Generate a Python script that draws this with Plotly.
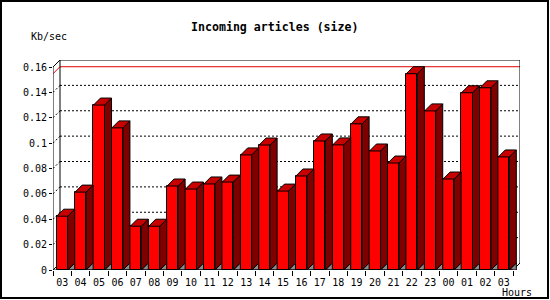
import plotly.graph_objects as go

hours = ["03", "04", "05", "06", "07", "08", "09", "10", "11", "12", "13", "14",
         "15", "16", "17", "18", "19", "20", "21", "22", "23", "00", "01", "02", "03"]
values = [0.0424, 0.0614, 0.130, 0.112, 0.0345, 0.0345, 0.0662, 0.0638, 0.0678,
          0.0693, 0.0907, 0.0985, 0.0622, 0.0741, 0.1017, 0.0986, 0.1152, 0.0938,
          0.0843, 0.1547, 0.1254, 0.0717, 0.1397, 0.1436, 0.0891]
y_ticks = [0, 0.02, 0.04, 0.06, 0.08, 0.1, 0.12, 0.14, 0.16]
y_ticktext = ["0", "0.02", "0.04", "0.06", "0.08", "0.1", "0.12", "0.14", "0.16"]

title = "Incoming articles (size)"
y_title = "Kb/sec"
x_title = "Hours"

# geometry (in pixels of the 550x300 canvas)
L, R, T, B = 53, 520, 60, 270
n = len(values)
px_per_cat = 460 / n
dx = 7 / px_per_cat
ymax = 0.16
px_per_unit = (B - 67) / ymax
dy = 7 / px_per_unit
W = R - L
H = B - T

FRONT = "#ff0000"
SIDE = "#800000"
TOP = "#c80000"
FLOOR = "#8c8c8c"

xs = [i + 0.5 for i in range(n)]

side_x, side_y, top_x, top_y, fl_x, fl_y = [], [], [], [], [], []
for i, v in enumerate(values):
    xl, xr = i + 0.2, i + 0.8
    side_x += [xr, xr + dx, xr + dx, xr, xr, None]
    side_y += [0, dy, v + dy, v, 0, None]
    top_x += [xl, xr, xr + dx, xl + dx, xl, None]
    top_y += [v, v, v + dy, v + dy, v, None]
    fl_x += [xr, xr + dx, xr + dx, xr, None]
    fl_y += [0, dy, 0, 0, None]

fig = go.Figure()
fig.add_trace(go.Bar(x=xs, y=values, width=0.6, marker=dict(color=FRONT, line=dict(color="black", width=1)),
                     hoverinfo="skip"))
fig.add_trace(go.Scatter(x=fl_x, y=fl_y, fill="toself", fillcolor=FLOOR, mode="lines",
                         line=dict(color="black", width=1), hoverinfo="skip"))
fig.add_trace(go.Scatter(x=side_x, y=side_y, fill="toself", fillcolor=SIDE, mode="lines",
                         line=dict(color="black", width=1), hoverinfo="skip"))
fig.add_trace(go.Scatter(x=top_x, y=top_y, fill="toself", fillcolor=TOP, mode="lines",
                         line=dict(color="black", width=1), hoverinfo="skip"))

shapes = []
def seg(x0, y0, x1, y1, color="black", dash="solid", width=1, layer="below"):
    shapes.append(dict(type="line", xref="x", yref="y", x0=x0, y0=y0, x1=x1, y1=y1,
                       line=dict(color=color, width=width, dash=dash), layer=layer))

# back grid (dotted) and diagonals
for v in y_ticks[1:-1]:
    seg(dx, v + dy, n + dx, v + dy, dash="2px,2px")
    seg(0, v, dx, v + dy, dash="2px,2px")
# max line
vmax = max(values)
seg(dx, vmax + dy, n + dx, vmax + dy, color="#e00000")
seg(0, vmax, dx, vmax + dy, color="#e00000")
# back box
seg(dx, dy, dx, ymax + dy)
seg(dx, ymax + dy, n + dx, ymax + dy)
seg(n + dx, dy, n + dx, ymax + dy)
# front axes
seg(0, 0, 0, ymax, layer="above")
seg(0, ymax, dx, ymax + dy)
seg(0, 0, n, 0, layer="above")
seg(0, 0, dx, dy)
seg(n, 0, n + dx, dy)

# outer frame
shapes.append(dict(type="rect", xref="paper", yref="paper",
                   x0=(1 - L) / W, x1=(548 - L) / W, y0=(B - 298) / H, y1=(B - 1) / H,
                   line=dict(color="black", width=2), fillcolor="rgba(0,0,0,0)", layer="above"))

mono = "DejaVu Sans Mono"
fig.update_layout(
    width=550, height=300,
    margin=dict(l=L, r=550 - R, t=T, b=300 - B, pad=0),
    paper_bgcolor="white", plot_bgcolor="white",
    showlegend=False,
    shapes=shapes,
    bargap=0,
    font=dict(family=mono, size=10, color="black"),
    xaxis=dict(range=[0, n + dx], showgrid=False, zeroline=False, showline=False,
               tickmode="array", tickvals=xs, ticktext=hours, ticks="outside", ticklen=3,
               tickcolor="rgba(0,0,0,0)",
               tickfont=dict(family=mono, size=10, color="black"),
               minor=dict(tickmode="linear", tick0=0, dtick=1, ticks="outside", ticklen=5,
                          tickcolor="black", tickwidth=1, showgrid=False),
               fixedrange=True),
    yaxis=dict(range=[0, ymax + dy], showgrid=False, zeroline=False, showline=False,
               tickmode="array", tickvals=y_ticks, ticktext=y_ticktext,
               ticks="outside", ticklen=3, tickcolor="black", tickwidth=1,
               tickfont=dict(family=mono, size=10, color="black"), fixedrange=True),
    annotations=[
        dict(text="<b>" + title + "</b>", xref="paper", yref="paper",
             x=(275 - L) / W, y=(B - 26.7) / H, xanchor="center", yanchor="middle",
             showarrow=False, font=dict(family=mono, size=11.6, color="black")),
        dict(text=y_title, xref="paper", yref="paper",
             x=(29 - L) / W, y=(B - 37) / H, xanchor="left", yanchor="middle",
             showarrow=False, font=dict(family=mono, size=10, color="black")),
        dict(text=x_title, xref="paper", yref="paper",
             x=(534 - L) / W, y=(B - 292) / H, xanchor="right", yanchor="middle",
             showarrow=False, font=dict(family=mono, size=10, color="black")),
    ],
)

fig.write_html("out.html", config={"displayModeBar": False})
